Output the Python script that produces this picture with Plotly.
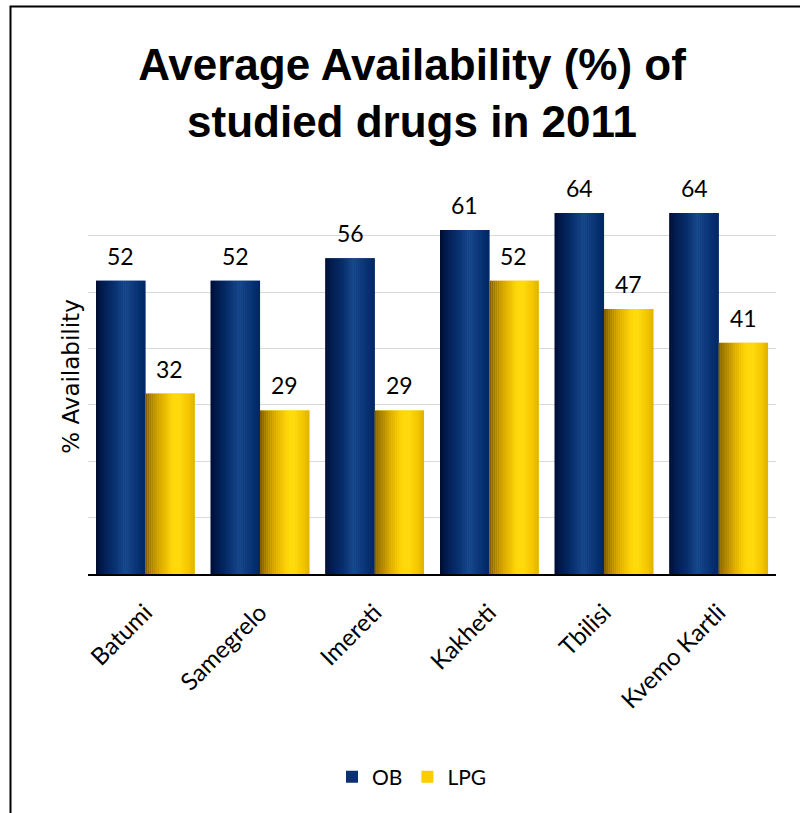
import plotly.graph_objects as go

# Regions and average availability (%) of studied drugs, 2011
regions = ["Batumi", "Samegrelo", "Imereti", "Kakheti", "Tbilisi", "Kvemo Kartli"]
ob_values = [52, 52, 56, 61, 64, 64]
lpg_values = [32, 29, 29, 52, 47, 41]

title_text = "Average Availability (%) of<br>studied drugs in 2011"
y_title = "% Availability"

# Bar geometry in category units (two bars per region, side by side)
BAR_W = 0.43
N_SLICES = 24

# Horizontal colour profiles giving the bars a cylindrical shading
ob_stops = [(0.0, "#000C2C"), (0.12, "#011A4C"), (0.35, "#072E6C"),
            (0.58, "#184A8E"), (0.72, "#113D80"), (0.88, "#05306F"), (1.0, "#012664")]
lpg_stops = [(0.0, "#7A5C00"), (0.12, "#A88000"), (0.32, "#DDAE00"),
             (0.55, "#FFD80A"), (0.68, "#FFDC10"), (0.88, "#F2C600"), (1.0, "#DDB000")]


def hex_to_rgb(h):
    h = h.lstrip("#")
    return tuple(int(h[i:i + 2], 16) for i in (0, 2, 4))


def profile_color(stops, t):
    for (t0, c0), (t1, c1) in zip(stops[:-1], stops[1:]):
        if t0 <= t <= t1:
            f = (t - t0) / (t1 - t0) if t1 > t0 else 0
            a, b = hex_to_rgb(c0), hex_to_rgb(c1)
            r = [round(a[i] + (b[i] - a[i]) * f) for i in range(3)]
            return "rgb({},{},{})".format(*r)
    return stops[-1][1]


fig = go.Figure()

series = [
    ("OB", ob_values, -BAR_W, "#0B3172", ob_stops),
    ("LPG", lpg_values, 0.0, "#FFCC00", lpg_stops),
]

# Solid base bars (also provide the legend swatches)
for name, vals, off, solid, _ in series:
    fig.add_trace(go.Bar(
        x=regions, y=vals, name=name, offset=off, width=BAR_W,
        marker=dict(color=solid, line=dict(width=0)),
        hoverinfo="x+y+name",
    ))

# Shaded slices on top of each bar
for name, vals, off, solid, stops in series:
    sw = BAR_W / N_SLICES
    for k in range(N_SLICES):
        t = (k + 0.5) / N_SLICES
        fig.add_trace(go.Bar(
            x=regions, y=vals, offset=off + k * sw, width=sw * 1.04,
            marker=dict(color=profile_color(stops, t), line=dict(width=0)),
            showlegend=False, hoverinfo="skip",
        ))

# Value labels above each bar
annotations = []
for name, vals, off, solid, _ in series:
    for i, v in enumerate(vals):
        annotations.append(dict(
            x=i + off + BAR_W / 2, y=v, xref="x", yref="y",
            text=str(v), showarrow=False, yanchor="bottom", yshift=9,
            font=dict(family="Lato, Open Sans, sans-serif", size=23, color="#000000"),
        ))

fig.update_layout(
    width=800, height=813,
    margin=dict(l=88, r=24, t=179, b=239),
    paper_bgcolor="white", plot_bgcolor="white",
    barmode="overlay",
    title=dict(
        text=title_text, x=0.515, xref="container", xanchor="center",
        y=1 - 80 / 813, yref="container", yanchor="top",
        font=dict(family="Liberation Sans, Arial, sans-serif",
                  size=44, color="#000000", weight="bold"),
    ),
    legend=dict(
        orientation="h", x=0.515, xref="container", xanchor="center",
        y=1 - 777 / 813, yref="container", yanchor="middle",
        font=dict(family="Lato, Open Sans, sans-serif", size=21, color="#000000"),
        itemwidth=30, traceorder="normal",
    ),
    annotations=annotations,
    shapes=[dict(
        type="rect", xref="paper", yref="paper",
        x0=(10.5 - 88) / 688, x1=(805 - 88) / 688,
        y0=(574 - 820) / 395, y1=(574 - 6.5) / 395,
        line=dict(color="#000000", width=2), fillcolor="rgba(0,0,0,0)", layer="below",
    )],
)

fig.update_xaxes(
    type="category", showgrid=False, showline=True, linecolor="#000000", linewidth=2,
    tickangle=-45, ticks="", range=[-0.5, 5.5], ticklabelstandoff=13,
    tickfont=dict(family="Lato, Open Sans, sans-serif", size=24, color="#000000"),
)
fig.update_yaxes(
    range=[0, 70.05], tickvals=[10, 20, 30, 40, 50, 60, 70], showgrid=True,
    gridcolor="#D9D9D9", gridwidth=1,
    showticklabels=False, zeroline=False, showline=False, ticks="",
    title=dict(text=y_title, standoff=0,
               font=dict(family="DejaVu Sans, sans-serif", size=23, color="#000000")),
)

fig.write_html("out.html")
